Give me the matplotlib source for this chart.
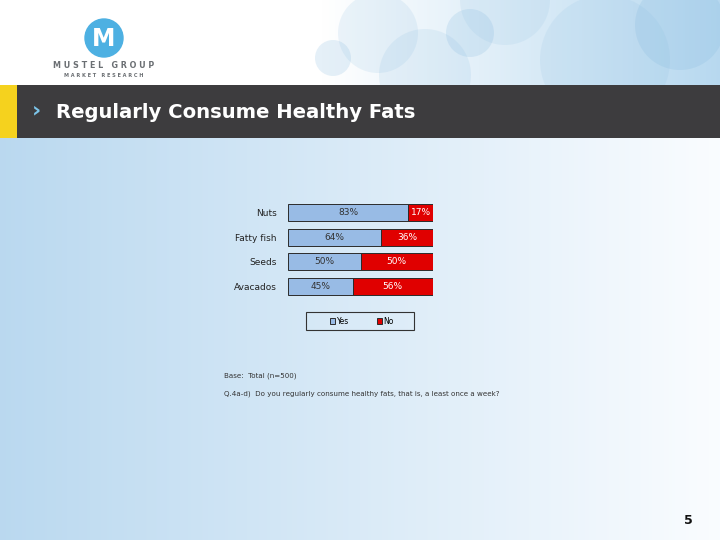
import numpy as np
import matplotlib
matplotlib.use("Agg")
import matplotlib.pyplot as plt
from matplotlib.patches import Rectangle, Circle, Patch

categories = ["Nuts", "Fatty fish", "Seeds", "Avacados"]
yes_vals = [83, 64, 50, 45]
no_vals = [17, 36, 50, 56]
legend_labels = ["Yes", "No"]
title = "Regularly Consume Healthy Fats"
base_note = "Base:  Total (n=500)"
question_note = "Q.4a-d)  Do you regularly consume healthy fats, that is, a least once a week?"
page_no = "5"

W, H = 720, 540
fig = plt.figure(figsize=(7.2, 5.4), dpi=100)

# background axes in pixel coordinates
bg = fig.add_axes([0, 0, 1, 1])
bg.set_xlim(0, W)
bg.set_ylim(H, 0)
bg.axis("off")

# lower gradient background
grad = np.linspace(0, 1, 256)
c0 = np.array([0.73, 0.85, 0.94])
c1 = np.array([0.98, 0.99, 1.0])
img = (c0[None, :] * (1 - grad[:, None]) + c1[None, :] * grad[:, None])[None, :, :]
bg.imshow(img, extent=[0, W, H, 138], aspect="auto", zorder=0)

# top header: white to light blue on right
tgrad = np.clip((np.linspace(0, 1, 256) - 0.45) / 0.55, 0, 1)
t0 = np.array([1.0, 1.0, 1.0])
t1 = np.array([0.72, 0.85, 0.94])
timg = (t0[None, :] * (1 - tgrad[:, None]) + t1[None, :] * tgrad[:, None])[None, :, :]
bg.imshow(timg, extent=[0, W, 85, 0], aspect="auto", zorder=0)
for (cx, cy, r, a) in [(333, 58, 18, 0.2), (378, 33, 40, 0.14), (425, 75, 46, 0.14),
                       (470, 33, 24, 0.2), (505, 0, 45, 0.12), (605, 60, 65, 0.12),
                       (680, 25, 45, 0.2)]:
    bg.add_patch(Circle((cx, cy), r, color="#7fb6dd", alpha=a, lw=0, zorder=1))

# logo
bg.add_patch(Circle((104, 38), 19, color="#4db0e2", zorder=3))
bg.text(104, 39.5, "M", color="white", fontsize=17, fontweight="bold",
        ha="center", va="center", zorder=4)
bg.text(104, 66, "M U S T E L   G R O U P", color="#6b6f73", fontsize=5.8,
        fontweight="bold", ha="center", va="center", zorder=4)
bg.text(104, 75.5, "M A R K E T   R E S E A R C H", color="#6b6f73", fontsize=3.6,
        fontweight="bold", ha="center", va="center", zorder=4)

# title bar
bg.add_patch(Rectangle((0, 85), W, 53, color="#3d3c3e", lw=0, zorder=2))
bg.add_patch(Rectangle((0, 85), 17, 53, color="#f5d21e", lw=0, zorder=3))
bg.text(37, 110, "›", color="#7cc5ea", fontsize=16, fontweight="bold",
        ha="center", va="center", zorder=4)
bg.text(56, 112, title, color="white", fontsize=14.1, fontweight="bold",
        ha="left", va="center", zorder=4)

# notes
bg.text(224, 376, base_note, color="#333333", fontsize=5.1, ha="left", va="center")
bg.text(224, 394, question_note, color="#333333", fontsize=5.1, ha="left", va="center")
bg.text(688, 520, page_no, color="#111111", fontsize=9, fontweight="bold",
        ha="center", va="center")

# legend frame
bg.add_patch(Rectangle((306, 312), 108, 18, fill=False, edgecolor="#333333", lw=0.8, zorder=3))

# chart axes
ax = fig.add_axes([288 / W, 1 - 299 / H, 145 / W, 98.8 / H])
ax.set_facecolor("none")
y = np.arange(len(categories))
totals = np.array(yes_vals, float) + np.array(no_vals, float)
yes_frac = np.array(yes_vals) / totals * 100
no_frac = np.array(no_vals) / totals * 100
h = 0.69
ax.barh(y, yes_frac, height=h, color="#98bbe5", edgecolor="#2b2b2b", lw=0.7)
ax.barh(y, no_frac, left=yes_frac, height=h, color="#e00000", edgecolor="#2b2b2b", lw=0.7)
for i in range(len(categories)):
    ax.text(yes_frac[i] / 2, y[i], f"{yes_vals[i]}%", ha="center", va="center",
            fontsize=6.5, color="#333333")
    ax.text(yes_frac[i] + no_frac[i] / 2, y[i], f"{no_vals[i]}%", ha="center",
            va="center", fontsize=6.5, color="white")
ax.set_xlim(0, 100)
ax.set_ylim(len(categories) - 0.5, -0.5)
ax.set_yticks(y)
ax.set_yticklabels(categories, fontsize=6.5, color="#222222")
ax.tick_params(axis="y", length=0, pad=8)
ax.set_xticks([])
for s in ax.spines.values():
    s.set_visible(False)

handles = [Patch(facecolor="#98bbe5", edgecolor="#2b2b2b", lw=0.7),
           Patch(facecolor="#e00000", edgecolor="#2b2b2b", lw=0.7)]
leg = fig.legend(handles, legend_labels, loc="center", bbox_to_anchor=(362 / W, 1 - 321 / H),
                 ncol=2, fontsize=5.5, frameon=False, handlelength=0.7,
                 handleheight=0.7, handletextpad=0.2, columnspacing=3.6,
                 borderpad=0.3, borderaxespad=0)

fig.savefig("out.png", dpi=100)
